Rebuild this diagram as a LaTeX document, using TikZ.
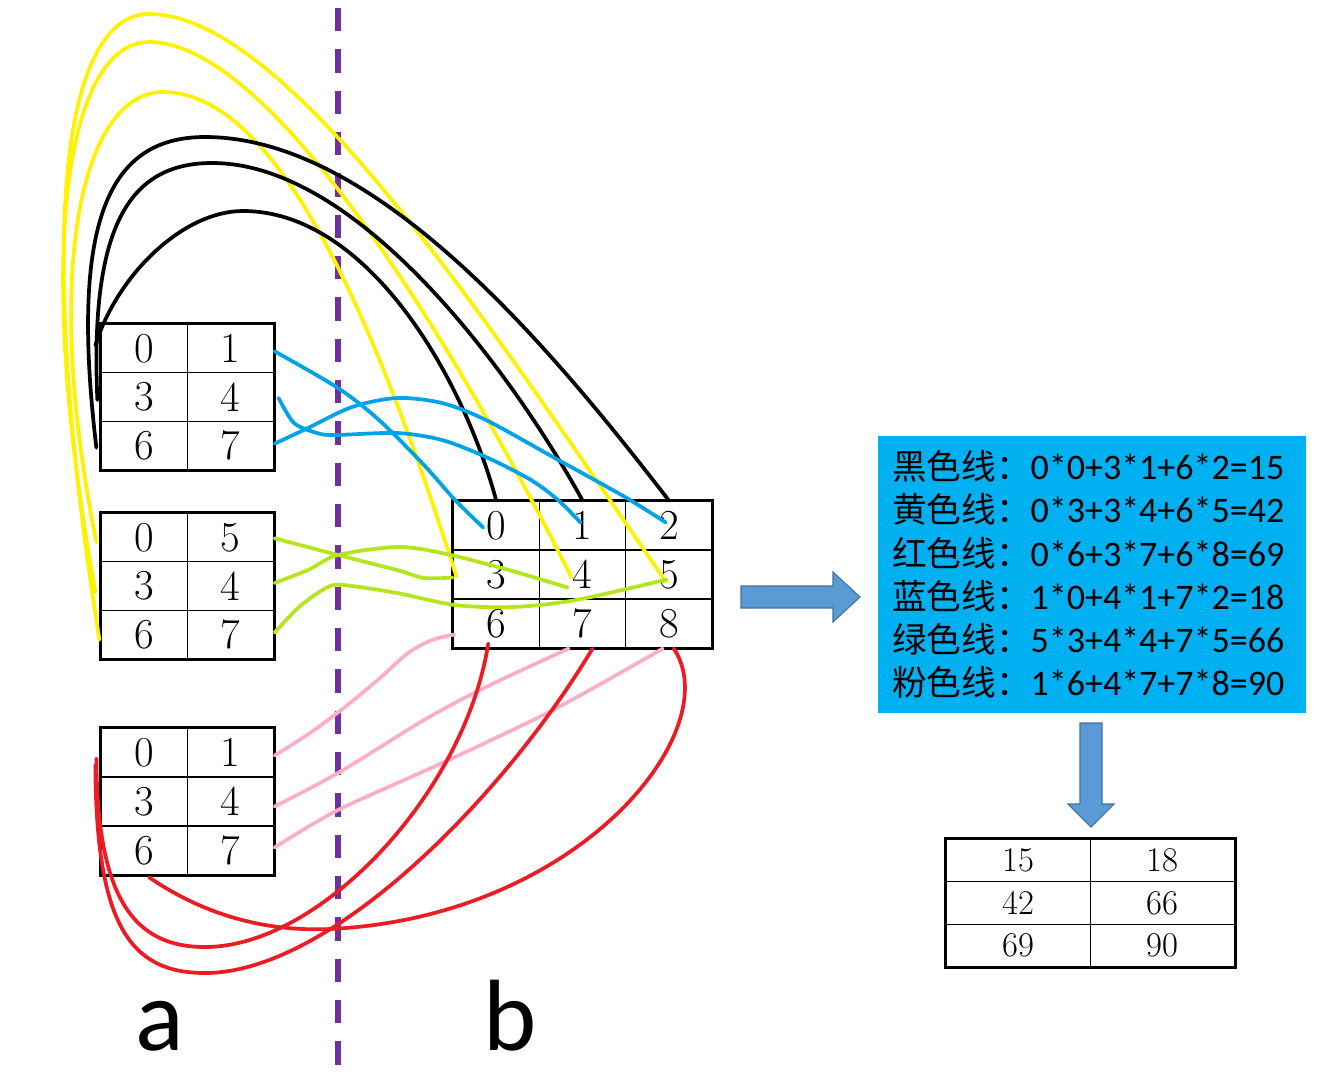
\documentclass[tikz,border=0pt]{standalone}
\usepackage{fontspec}
\newfontfamily\cjk{Noto Sans CJK SC}
\newfontfamily\carl{Carlito}
\usetikzlibrary{calc}
\definecolor{pyellow}{HTML}{FFF200}
\definecolor{pblue}{HTML}{00A2E8}
\definecolor{pgreen}{HTML}{B5E61D}
\definecolor{ppink}{HTML}{FFAEC9}
\definecolor{pred}{HTML}{ED1C24}
\definecolor{ppurple}{HTML}{7030A0}
\definecolor{fcyan}{HTML}{00B0F0}
\definecolor{arrfill}{HTML}{5B9BD5}
\definecolor{arrline}{HTML}{41719C}
\begin{document}
\begin{tikzpicture}[x=0.75pt,y=-0.75pt,
  cellA/.style={draw, line width=0.9pt, minimum width=64.9pt, minimum height=36.5pt, inner sep=0pt, font=\fontsize{32}{32}\selectfont},
  cellB/.style={cellA, minimum width=64.75pt, minimum height=36.75pt},
  cellR/.style={draw, line width=0.9pt, minimum width=108.4pt, minimum height=32pt, inner sep=0pt, font=\fontsize{26}{26}\selectfont},
  frame/.style={line width=1.9pt},
  link/.style={line width=2.8pt, line cap=round, line join=round},
  blockarrow/.style={fill=arrfill, draw=arrline, line width=0.8pt},
  biglabel/.style={font=\carl\fontsize{76}{76}\selectfont, anchor=base, inner sep=0pt}
]
\fill[white] (0,0) rectangle (1335,1076);
\useasboundingbox (0,0) rectangle (1335,1076);

% divider
\draw[ppurple, line width=4.2pt, dash pattern=on 17.5pt off 13.5pt] (338,8) -- (338,1076);

% grid A1
\node[cellA] (a1c0) at (144.25,348.3) {0};
\node[cellA] (a1c1) at (230.75,348.3) {1};
\node[cellA] (a1c3) at (144.25,397) {3};
\node[cellA] (a1c4) at (230.75,397) {4};
\node[cellA] (a1c6) at (144.25,445.7) {6};
\node[cellA] (a1c7) at (230.75,445.7) {7};
\draw[frame] (a1c0.north west) rectangle (a1c7.south east);
% grid A2
\node[cellA] (a2c0) at (144.25,537.3) {0};
\node[cellA] (a2c5) at (230.75,537.3) {5};
\node[cellA] (a2c3) at (144.25,586) {3};
\node[cellA] (a2c4) at (230.75,586) {4};
\node[cellA] (a2c6) at (144.25,634.7) {6};
\node[cellA] (a2c7) at (230.75,634.7) {7};
\draw[frame] (a2c0.north west) rectangle (a2c7.south east);
% grid A3
\node[cellA] (a3c0) at (144.25,752.5) {0};
\node[cellA] (a3c1) at (230.75,752.5) {1};
\node[cellA] (a3c3) at (144.25,801.5) {3};
\node[cellA] (a3c4) at (230.75,801.5) {4};
\node[cellA] (a3c6) at (144.25,850.5) {6};
\node[cellA] (a3c7) at (230.75,850.5) {7};
\draw[frame] (a3c0.north west) rectangle (a3c7.south east);
% grid B
\node[cellB] (b0) at (496.2,525.5) {0};
\node[cellB] (b1) at (582.5,525.5) {1};
\node[cellB] (b2) at (668.8,525.5) {2};
\node[cellB] (b3) at (496.2,574.5) {3};
\node[cellB] (b4) at (582.5,574.5) {4};
\node[cellB] (b5) at (668.8,574.5) {5};
\node[cellB] (b6) at (496.2,623.5) {6};
\node[cellB] (b7) at (582.5,623.5) {7};
\node[cellB] (b8) at (668.8,623.5) {8};
\draw[frame] (b0.north west) rectangle (b8.south east);

% end points
\coordinate (k10) at ($(a1c0.west)+(-5,-3)$);
\coordinate (k13) at ($(a1c3.west)+(-3,3)$);
\coordinate (k16) at ($(a1c6.west)+(-4,2)$);
\coordinate (u11) at ($(a1c1.east)+(0,3)$);
\coordinate (u14) at ($(a1c4.east)+(4,1)$);
\coordinate (u17) at ($(a1c7.east)+(0,-2)$);
\coordinate (y20) at ($(a2c0.west)+(-4,5)$);
\coordinate (y23) at ($(a2c3.west)+(-5,6)$);
\coordinate (y26) at ($(a2c6.west)+(-1,5)$);
\coordinate (g25) at ($(a2c5.east)+(0,1)$);
\coordinate (g24) at ($(a2c4.east)+(0,-3)$);
\coordinate (g27) at ($(a2c7.east)+(0,-2)$);
\coordinate (p31) at ($(a3c1.east)+(0,3)$);
\coordinate (p34) at ($(a3c4.east)+(0,5)$);
\coordinate (p37) at ($(a3c7.east)+(0,-3)$);
\coordinate (r30a) at ($(a3c0.west)+(-4,6)$);
\coordinate (r30b) at ($(a3c0.west)+(-5,12)$);
\coordinate (r36) at ($(a3c6.south)+(5,2)$);
\coordinate (ub0) at ($(b0.center)+(-13,2)$);
\coordinate (ub1) at ($(b1.center)+(-2,-3)$);
\coordinate (ub2) at ($(b2.center)+(-3,-3)$);
\coordinate (yb3) at ($(b3.west)+(4,2)$);
\coordinate (yb4) at ($(b4.center)+(-11,3)$);
\coordinate (yb5) at ($(b5.center)+(-3,7)$);
\coordinate (gb3) at ($(b3.west)+(0,3)$);
\coordinate (gb4) at ($(b4.center)+(-15,13)$);
\coordinate (gb5) at ($(b5.center)+(-2,5)$);
\coordinate (pb6) at ($(b6.west)+(2,11)$);
\coordinate (pb7) at ($(b7.south)+(-14,0)$);
\coordinate (pb8) at ($(b8.south)+(-6,0)$);
\coordinate (rb6) at ($(b6.south)+(-8,-5)$);
\coordinate (rb7) at ($(b7.south)+(10,0)$);
\coordinate (rb8) at ($(b8.south)+(5,0)$);

% yellow
\draw[link, pyellow] (y26) .. controls (30,200) and (70,14) .. (149,14) .. controls (289,14) and (493,331) .. (yb5);
\draw[link, pyellow] (y23) .. controls (30,230) and (72,42) .. (149,42) .. controls (279,42) and (472,378) .. (yb4);
\draw[link, pyellow] (y20) .. controls (40,260) and (85,92) .. (163,92) .. controls (280,92) and (377,326) .. (yb3);
% black
\draw[link, black] (k16) .. controls (69,218) and (110,137) .. (205,137) .. controls (375,137) and (549,345) .. (b2.north);
\draw[link, black] (k13) .. controls (90,230) and (127,163) .. (212,163) .. controls (362,163) and (517,381) .. (b1.north);
\draw[link, black] (k10) .. controls (117,275) and (183,211) .. (243,211) .. controls (365,211) and (461,371) .. (b0.north);
% blue
\draw[link, pblue] plot[smooth] coordinates {(u11) (338,388) (379,420) (424,465) (455,500) (ub0)};
\draw[link, pblue] plot[smooth] coordinates {(u14) (294,423) (317,433) (335,435) (397,433) (442,440) (486,457) (531,480) (558,500) (ub1)};
\draw[link, pblue] plot[smooth] coordinates {(u17) (308,428) (352,407) (397,398) (442,403) (486,420) (553,457) (625,497) (ub2)};
% green
\draw[link, pgreen] plot[smooth] coordinates {(g25) (338,555) (397,570) (424,578) (gb3)};
\draw[link, pgreen] plot[smooth] coordinates {(g24) (308,570) (338,555) (397,547) (442,553) (509,570) (gb4)};
\draw[link, pgreen] plot[smooth] coordinates {(g27) (299,607) (326,588) (343,585) (397,593) (455,605) (513,607) (576,600) (gb5)};
% pink
\draw[link, ppink] plot[smooth] coordinates {(p31) (310,733) (345,707) (380,678) (408,653) (432,640) (pb6)};
\draw[link, ppink] plot[smooth] coordinates {(p34) (338,773) (424,720) (486,687) (pb7)};
\draw[link, ppink] plot[smooth] coordinates {(p37) (338,810) (442,763) (553,710) (pb8)};
% red
\draw[link, pred] (r30a) .. controls (97,900) and (135,947) .. (205,947) .. controls (320,947) and (465,793) .. (rb6);
\draw[link, pred] (r30b) .. controls (96,925) and (130,973) .. (205,973) .. controls (330,973) and (503,798) .. (rb7);
\draw[link, pred] (r36) .. controls (200,912) and (260,932) .. (330,929) .. controls (580,917) and (728,730) .. (rb8);

% right arrow
\draw[blockarrow] (741,586) -- (833,586) -- (833,572) -- (860,597) -- (833,622) -- (833,608) -- (741,608) -- cycle;

% formula box
\node[fill=fcyan, minimum width=321pt, minimum height=207.75pt, inner sep=0pt, text width=300pt, align=left, font=\fontsize{26}{32.4}\selectfont] (formula) at (1092,574.5) {%
{\cjk 黑色线：}{\carl\fontsize{27}{32.4}\selectfont 0*0+3*1+6*2=15}\\
{\cjk 黄色线：}{\carl\fontsize{27}{32.4}\selectfont 0*3+3*4+6*5=42}\\
{\cjk 红色线：}{\carl\fontsize{27}{32.4}\selectfont 0*6+3*7+6*8=69}\\
{\cjk 蓝色线：}{\carl\fontsize{27}{32.4}\selectfont 1*0+4*1+7*2=18}\\
{\cjk 绿色线：}{\carl\fontsize{27}{32.4}\selectfont 5*3+4*4+7*5=66}\\
{\cjk 粉色线：}{\carl\fontsize{27}{32.4}\selectfont 1*6+4*7+7*8=90}};

% down arrow
\draw[blockarrow] (1080,723) -- (1102,723) -- (1102,804) -- (1114,804) -- (1091,827) -- (1068,804) -- (1080,804) -- cycle;

% result table
\node[cellR] (r00) at (1018.25,860.3) {15};
\node[cellR] (r01) at (1162.75,860.3) {18};
\node[cellR] (r10) at (1018.25,903) {42};
\node[cellR] (r11) at (1162.75,903) {66};
\node[cellR] (r20) at (1018.25,945.7) {69};
\node[cellR] (r21) at (1162.75,945.7) {90};
\draw[line width=2.4pt] (r00.north west) rectangle (r21.south east);

% labels
\node[biglabel] (la) at (160,1050) {a};
\node[biglabel] (lb) at (510,1050) {b};
\end{tikzpicture}
\end{document}
